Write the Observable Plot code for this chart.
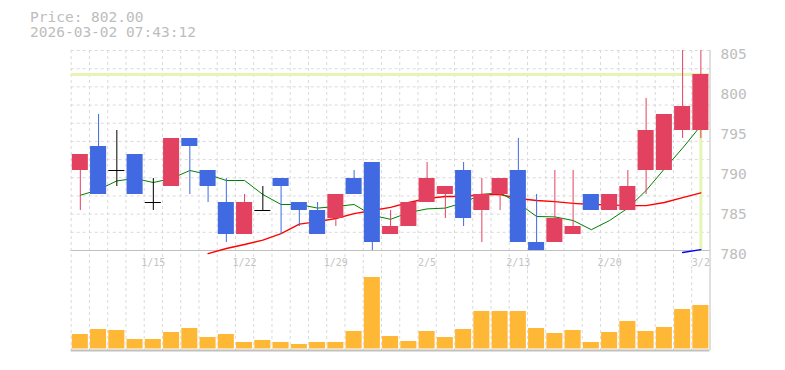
<!DOCTYPE html>
<html><head><meta charset="utf-8">
<script src="https://cdn.jsdelivr.net/npm/d3@7"></script>
<script src="https://cdn.jsdelivr.net/npm/@observablehq/plot@0.6"></script>
<style>
body{margin:0;background:#fff;width:785px;height:370px;position:relative;overflow:hidden;font-family:"DejaVu Sans Mono",monospace;}
#hdr{position:absolute;left:30px;top:10px;font-size:14.5px;line-height:15px;color:#bdbdbd;white-space:pre;}
#price{position:absolute;left:0;top:0;}
#vol{position:absolute;left:0;top:270px;}
</style></head><body>
<div id="price"></div><div id="vol"></div>
<div id="hdr">Price: 802.00
2026-03-02 07:43:12</div>
<script>
const dates = ["1/8","1/9","1/13","1/14","1/15","1/16","1/19","1/20","1/21","1/22","1/23","1/26","1/27","1/28","1/29","1/30","2/2","2/3","2/4","2/5","2/6","2/9","2/10","2/12","2/13","2/16","2/17","2/18","2/19","2/20","2/24","2/25","2/26","2/27","3/2"];
const open  = [790,793,790,792,786,788,794,790,786,782,785,789,786,785,784,789,791,782,783,786,787,790,785,787,790,781,781,782,787,785,785,790,790,795,795];
const high  = [792,797,795,792,789,794,794,790,789,787,788,789,786,786,787,790,791,785,786,791,788,791,789,789,794,787,790,790,787,787,790,799,797,805,805];
const low   = [785,787,788,787,785,788,787,786,781,782,785,782,783,782,783,787,780,782,783,786,784,783,781,785,781,780,781,782,785,785,785,787,790,794,794];
const close = [792,787,790,787,786,794,793,788,782,786,785,788,785,782,787,787,781,783,786,789,788,784,787,789,781,780,784,783,785,787,788,795,797,798,802];
const ma5  = [786.9,787.6,788.7,789.0,788.5,789.0,790.0,789.5,788.75,788.75,787.0,785.75,785.75,785.3,785.5,785.75,784.4,783.9,784.75,785.2,785.3,786.0,787.0,787.2,785.9,784.25,784.2,783.75,782.6,783.75,785.3,787.5,790.2,792.8,795.6];
const ma25 = [null,null,null,null,null,null,null,779.6,780.25,780.75,781.3,782.1,783.3,783.6,784.0,784.6,785.0,785.4,786.0,786.5,786.75,786.75,787.0,787.0,786.5,786.25,786.1,785.9,785.75,785.7,785.6,785.6,786.0,786.6,787.2];
const ma75 = [null,null,null,null,null,null,null,null,null,null,null,null,null,null,null,null,null,null,null,null,null,null,null,null,null,null,null,null,null,null,null,null,null,779.75,780.1];
const volume = [16,21,20,11,11,18,22,13,16,8,10,8,6,8,8,19,73,14,9,19,13,21,39,39,39,22,17,20,8,18,29,19,23,41,45];
const tickLabels = ["1/15","1/22","1/29","2/5","2/13","2/20","3/2"];
const priceTicks = [780,785,790,795,800,805];
const lastPrice = 802;

const N = dates.length;
const rows = dates.map((d, i) => ({i, d, o: open[i], h: high[i], l: low[i], c: close[i], g: ma5[i], r: ma25[i], b: ma75[i], v: volume[i]}));
const col = d => d.c > d.o ? "#e2425f" : d.c < d.o ? "#4169e1" : "#000000";
const pad = 0.06;
const gridY = d3.range(12).map(k => 780 + k * 25 / 11);
const gridX = d3.range(0, N);
const ML = 70.7, MR = 785 - 709.5;
const GRID = "#dadada";
const AX = "#c0c0c0";

const price = Plot.plot({
  width: 785, height: 270,
  marginLeft: ML, marginRight: MR, marginTop: 50, marginBottom: 20,
  x: {type: "linear", domain: [0, N]},
  y: {type: "linear", domain: [780, 805]},
  style: {fontFamily: "DejaVu Sans Mono, monospace", background: "transparent", overflow: "visible"},
  marks: [
    Plot.ruleY(gridY, {stroke: GRID, strokeDasharray: "3,3"}),
    Plot.ruleX(gridX, {stroke: GRID, strokeDasharray: "3,3", insetBottom: -20}),
    Plot.ruleY([780], {stroke: AX}),
    Plot.ruleX([N], {stroke: AX, insetBottom: -20}),
    Plot.ruleY([lastPrice], {stroke: "#e6f5b4", strokeWidth: 3}),
    Plot.ruleX([N - 0.5], {y1: 780, y2: lastPrice, stroke: "#e6f5b4", strokeWidth: 3}),
    Plot.lineY(rows, {x: d => d.i + 0.5, y: "r", stroke: "#ff0000", strokeWidth: 1.3}),
    Plot.lineY(rows, {x: d => d.i + 0.5, y: "b", stroke: "#0000ff", strokeWidth: 1.3}),
    Plot.lineY(rows, {x: d => d.i + 0.5, y: "g", stroke: "#008000", strokeWidth: 1}),
    Plot.ruleX(rows, {x: d => d.i + 0.5, y1: "l", y2: "h", stroke: col, strokeWidth: 1}),
    Plot.rect(rows.filter(d => d.o !== d.c), {x1: d => d.i + pad, x2: d => d.i + 1 - pad, y1: "o", y2: "c", fill: col}),
    Plot.ruleY(rows.filter(d => d.o === d.c), {x1: d => d.i + pad, x2: d => d.i + 1 - pad, y: "c", stroke: "#000000"}),
    Plot.axisX(tickLabels.map(t => dates.indexOf(t) + 0.5), {
      anchor: "bottom", tickSize: 0, tickPadding: 8, fontSize: 10, color: "#c4c4c4",
      tickFormat: v => dates[Math.round(v - 0.5)], label: null
    }),
    Plot.axisY(priceTicks, {
      anchor: "right", tickSize: 0, tickPadding: 10.5, fontSize: 14.5, color: "#bdbdbd", dy: 3.5, label: null
    })
  ]
});
document.getElementById("price").appendChild(price);

const vol = Plot.plot({
  width: 785, height: 100,
  marginLeft: ML, marginRight: MR, marginTop: 0, marginBottom: 20,
  x: {type: "linear", domain: [0, N], axis: null},
  y: {type: "linear", domain: [0, 80], axis: null},
  style: {background: "transparent", overflow: "visible"},
  marks: [
    Plot.ruleX(gridX, {stroke: GRID, strokeDasharray: "3,3"}),
    Plot.rect(rows, {x1: d => d.i + pad, x2: d => d.i + 1 - pad, y1: 0, y2: "v", fill: "#ffb835", insetBottom: 1.5}),
    Plot.ruleY([0], {stroke: AX, strokeWidth: 2}),
    Plot.ruleX([N], {stroke: AX})
  ]
});
document.getElementById("vol").appendChild(vol);
</script>
</body></html>
